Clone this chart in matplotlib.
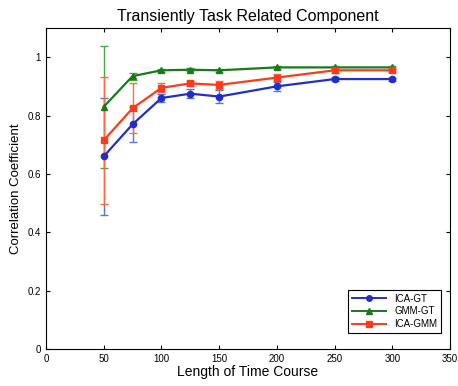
import matplotlib
matplotlib.use("Agg")
import matplotlib.pyplot as plt
from matplotlib.lines import Line2D

plt.rcParams['font.family'] = ['Liberation Sans', 'DejaVu Sans']

x = [50, 75, 100, 125, 150, 200, 250, 300]
ica_gt = [0.66, 0.77, 0.86, 0.875, 0.865, 0.90, 0.925, 0.925]
ica_gt_err = [0.20, 0.06, 0.015, 0.015, 0.022, 0.015, 0.006, 0.005]
gmm_gt = [0.83, 0.935, 0.955, 0.957, 0.955, 0.965, 0.965, 0.965]
gmm_gt_err = [0.21, 0.012, 0.005, 0.005, 0.006, 0.004, 0.004, 0.004]
ica_gmm = [0.715, 0.825, 0.895, 0.91, 0.905, 0.93, 0.955, 0.955]
ica_gmm_err = [0.217, 0.085, 0.015, 0.01, 0.015, 0.012, 0.01, 0.006]

fig = plt.figure(figsize=(4.58, 3.86), dpi=100)
ax = fig.add_axes([46/458, 1-349/386, (450-46)/458, (349-28)/386])

series = [
    ("ICA-GT", ica_gt, ica_gt_err, '#1f2fc8', '#5577dd', 'o'),
    ("GMM-GT", gmm_gt, gmm_gt_err, '#187a18', '#44aa44', '^'),
    ("ICA-GMM", ica_gmm, ica_gmm_err, '#ff3a1a', '#ff6a40', 's'),
]
handles = []
for name, y, e, c, ec, m in series:
    ax.errorbar(x, y, yerr=e, color=c, ecolor=ec, marker=m, markersize=4.5,
                linewidth=1.6, elinewidth=1.0, capsize=3, capthick=1.0)
    handles.append(Line2D([], [], color=c, marker=m, markersize=4, linewidth=1.4, label=name))

ax.set_xlim(0, 350)
ax.set_ylim(0, 1.1)
ax.set_xticks([0, 50, 100, 150, 200, 250, 300, 350])
ax.set_yticks([0, 0.2, 0.4, 0.6, 0.8, 1])
ax.set_yticklabels(['0', '0.2', '0.4', '0.6', '0.8', '1'])
ax.tick_params(direction='in', labelsize=7, length=3, top=True, right=True)
ax.set_xlabel("Length of Time Course", fontsize=10, labelpad=1)
ax.set_ylabel("Correlation Coefficient", fontsize=9.5)
ax.set_title("Transiently Task Related Component", fontsize=11.5, pad=5)
leg = ax.legend(handles=handles, loc='lower right', fontsize=7, fancybox=False,
                edgecolor='black', bbox_to_anchor=(0.985, 0.04), borderaxespad=0.3,
                handlelength=3.5, framealpha=1, labelspacing=0.3)
leg.get_frame().set_linewidth(0.8)

fig.savefig("out.png", dpi=100)
